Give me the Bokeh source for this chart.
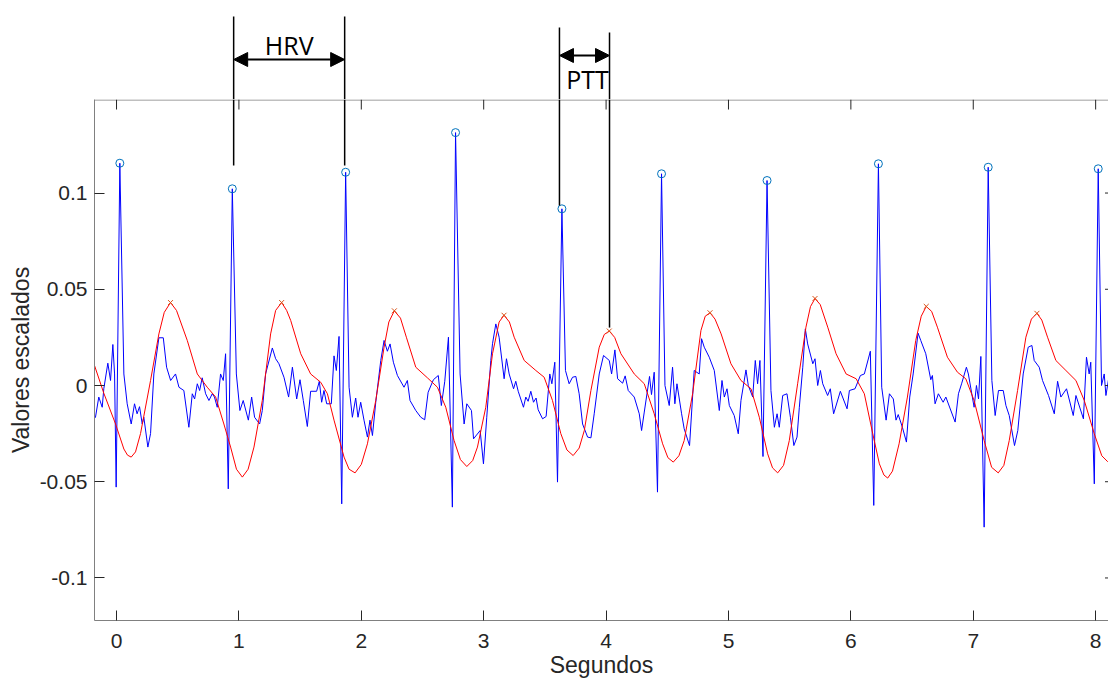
from bokeh.plotting import figure
from bokeh.models import FixedTicker, Label, Arrow, NormalHead, Range1d
from bokeh.layouts import column
from bokeh.embed import file_html
from bokeh.resources import INLINE

# ---------------- data ----------------
ecg_t = [-0.18, -0.172, -0.145, -0.117, -0.104, -0.071, -0.049, -0.030, -0.016, -0.003, 0.027, 0.06, 0.087, 0.12,
         0.147, 0.168, 0.188, 0.21, 0.223, 0.256, 0.278, 0.305, 0.346, 0.382, 0.409, 0.442, 0.482, 0.51, 0.55,
         0.591, 0.619, 0.638, 0.66, 0.679, 0.70, 0.728, 0.755, 0.782, 0.80, 0.823, 0.85, 0.872, 0.891, 0.913,
         0.946, 0.979, 1.008, 1.035, 1.077, 1.104, 1.128, 1.169, 1.191, 1.218, 1.273, 1.30, 1.327, 1.368, 1.406,
         1.437, 1.472, 1.499, 1.526, 1.559, 1.586, 1.635, 1.657, 1.676, 1.695, 1.717, 1.755, 1.777, 1.796, 1.818,
         1.840, 1.872, 1.90, 1.927, 1.954, 1.973, 1.995, 2.022, 2.05, 2.071, 2.091, 2.118, 2.159, 2.186, 2.213,
         2.235, 2.262, 2.295, 2.349, 2.376, 2.398, 2.445, 2.486, 2.518, 2.546, 2.589, 2.629, 2.654, 2.682, 2.712,
         2.744, 2.77, 2.807, 2.84, 2.862, 2.90, 2.917, 2.971, 2.998, 3.025, 3.058, 3.072, 3.099, 3.126, 3.167,
         3.186, 3.208, 3.244, 3.262, 3.282, 3.325, 3.344, 3.363, 3.385, 3.407, 3.428, 3.445, 3.481, 3.51, 3.54,
         3.557, 3.581, 3.603, 3.639, 3.668, 3.698, 3.726, 3.753, 3.78, 3.808, 3.849, 3.876, 3.903, 3.944, 3.979,
         4.026, 4.045, 4.072, 4.094, 4.135, 4.156, 4.181, 4.23, 4.271, 4.29, 4.312, 4.355, 4.371, 4.393, 4.42,
         4.453, 4.481, 4.516, 4.543, 4.562, 4.579, 4.617, 4.638, 4.682, 4.72, 4.761, 4.78, 4.802, 4.843, 4.884,
         4.925, 4.947, 4.966, 4.988, 5.007, 5.047, 5.08, 5.102, 5.143, 5.162, 5.198, 5.219, 5.238, 5.257, 5.282,
         5.315, 5.347, 5.375, 5.397, 5.415, 5.443, 5.478, 5.506, 5.534, 5.56, 5.579, 5.607, 5.628, 5.647, 5.689,
         5.707, 5.729, 5.751, 5.77, 5.81, 5.832, 5.859, 5.914, 5.969, 5.988, 6.034, 6.078, 6.11, 6.159, 6.187,
         6.225, 6.252, 6.288, 6.315, 6.347, 6.369, 6.387, 6.421, 6.454, 6.481, 6.509, 6.549, 6.571, 6.612, 6.653,
         6.666, 6.688, 6.715, 6.754, 6.776, 6.852, 6.879, 6.906, 6.944, 6.96, 7.007, 7.026, 7.043, 7.062, 7.089,
         7.122, 7.152, 7.179, 7.206, 7.245, 7.267, 7.294, 7.337, 7.364, 7.408, 7.449, 7.479, 7.498, 7.539, 7.566,
         7.615, 7.662, 7.689, 7.716, 7.762, 7.817, 7.839, 7.9, 7.925, 7.947, 7.96, 7.989, 8.021, 8.048, 8.07,
         8.084, 8.106, 8.12]
ecg_v = [-0.017, -0.0165, -0.006, -0.0113, -0.0017, 0.0116, 0.0026, 0.0213, 0.006, -0.0528, 0.1155, 0.006, -0.0095,
         -0.020, -0.0095, -0.0147, -0.011, -0.020, -0.0165, -0.032, -0.025, 0.006, 0.0248, 0.0248, 0.0095, 0.0026,
         0.006, -0.0009, -0.0026, -0.0217, -0.0043, -0.007, 0.0009, -0.0026, 0.004, -0.0043, -0.0078, -0.0043,
         -0.006, -0.0113, 0.006, 0.0026, 0.0165, -0.0537, 0.1022, 0.006, -0.013, -0.0078, -0.018, -0.006, -0.0165,
         -0.020, -0.013, 0.006, 0.0195, 0.0139, 0.0113, 0.0043, -0.006, 0.0095, -0.007, 0.003, -0.0078, -0.0213,
         -0.003, -0.003, 0.0022, -0.0087, -0.0026, -0.0095, -0.0095, 0.0154, 0.0078, 0.0255, -0.0615, 0.1108,
         -0.0009, -0.0165, -0.0065, -0.0165, -0.0087, -0.018, -0.0268, -0.018, -0.026, -0.0087, 0.013, 0.0234,
         0.0178, 0.0216, 0.0121, 0.0052, -0.0009, 0.0026, -0.0078, -0.013, -0.0165, -0.0178, -0.0035, 0.003,
         0.0052, -0.0104, 0.0022, 0.0251, -0.0632, 0.1314, 0.006, -0.020, -0.0095, -0.013, -0.0277, -0.0234,
         -0.0407, -0.0165, 0.013, 0.0217, 0.032, 0.0251, 0.0035, 0.0139, 0.006, -0.0017, 0.0022, -0.003, -0.0113,
         -0.006, -0.0082, -0.003, -0.0087, -0.0065, -0.0126, -0.0173, -0.0161, 0.006, 0.0009, 0.0121, -0.0502,
         0.0918, 0.0078, 0.0009, 0.0043, 0.0047, -0.0043, -0.020, -0.0268, -0.0272, -0.0147, 0.006, 0.0156, 0.013,
         0.006, 0.0185, 0.0035, 0.0012, 0.005, -0.0026, -0.006, -0.0147, -0.0234, -0.0138, 0.0047, -0.0047, 0.0069,
         -0.0554, 0.110, 0.0, -0.0104, 0.0095, -0.0095, 0.0009, -0.0147, -0.0225, -0.0312, 0.0078, 0.006, 0.0243,
         0.0199, 0.0147, 0.0078, -0.013, 0.0026, -0.006, -0.0017, -0.0104, -0.0156, -0.0251, -0.0078, 0.0081, 0.0,
         -0.006, 0.013, 0.0009, 0.013, -0.0369, 0.1065, -0.0026, -0.0217, -0.0147, -0.0217, -0.0052, -0.0043,
         -0.0165, -0.0312, -0.0268, -0.0113, 0.0095, 0.0294, 0.0216, 0.0113, 0.0139, 0.0, 0.0078, 0.0009, -0.0052,
         -0.0017, -0.0147, -0.003, -0.0121, -0.0026, -0.0017, 0.0052, 0.006, 0.0178, -0.0623, 0.1152, -0.0009,
         -0.018, -0.0043, -0.007, -0.018, -0.0151, -0.0217, -0.0294, -0.006, 0.006, 0.0272, 0.0234, 0.0165, 0.003,
         0.0052, -0.0095, -0.0043, -0.0087, -0.006, -0.019, -0.0043, 0.0012, 0.0095, 0.006, -0.0113, 0.0, -0.007,
         0.0151, -0.0736, 0.1134, 0.0026, -0.0156, -0.0026, -0.0026, -0.0104, -0.0156, -0.0312, -0.0234, 0.006,
         0.0199, 0.0208, 0.013, 0.0095, 0.0026, -0.0052, -0.0147, 0.0022, -0.006, -0.0017, -0.0156, -0.0052,
         -0.0173, 0.0147, 0.006, 0.0121, -0.0511, 0.1126, 0.0, 0.006, -0.0052, 0.0035, 0.002]

ppg_t = [-0.18, -0.104, -0.008, 0.06, 0.09, 0.12, 0.155, 0.196, 0.278, 0.346, 0.39, 0.441, 0.49, 0.578, 0.66,
         0.741, 0.81, 0.877, 0.932, 0.98, 1.028, 1.075, 1.123, 1.191, 1.259, 1.30, 1.349, 1.39, 1.423, 1.505,
         1.586, 1.668, 1.723, 1.777, 1.859, 1.90, 1.949, 2.0, 2.05, 2.118, 2.186, 2.225, 2.27, 2.32, 2.368, 2.445,
         2.54, 2.622, 2.69, 2.758, 2.81, 2.862, 2.91, 2.949, 3.017, 3.072, 3.126, 3.166, 3.21, 3.249, 3.331,
         3.426, 3.494, 3.562, 3.63, 3.68, 3.731, 3.78, 3.822, 3.876, 3.944, 3.985, 4.026, 4.07, 4.121, 4.23,
         4.312, 4.393, 4.462, 4.505, 4.549, 4.595, 4.638, 4.707, 4.775, 4.81, 4.849, 4.89, 4.94, 5.02, 5.102,
         5.184, 5.252, 5.32, 5.36, 5.402, 5.45, 5.497, 5.565, 5.633, 5.67, 5.707, 5.75, 5.811, 5.879, 5.961,
         6.043, 6.11, 6.179, 6.233, 6.27, 6.301, 6.34, 6.394, 6.462, 6.53, 6.575, 6.616, 6.66, 6.707, 6.789,
         6.871, 6.939, 7.007, 7.089, 7.15, 7.204, 7.25, 7.294, 7.362, 7.43, 7.475, 7.52, 7.56, 7.607, 7.675,
         7.757, 7.839, 7.907, 7.989, 8.05, 8.097, 8.12]
ppg_v = [0.0104, -0.004, -0.020, -0.033, -0.0362, -0.0372, -0.0345, -0.025, 0.0026, 0.0268, 0.038, 0.0431, 0.039,
         0.0234, 0.006, -0.0009, -0.006, -0.020, -0.032, -0.0435, -0.0476, -0.0435, -0.032, -0.0078, 0.0268,
         0.039, 0.0431, 0.039, 0.0338, 0.0165, 0.006, 0.0017, -0.0043, -0.018, -0.0372, -0.0435, -0.0454, -0.041,
         -0.0303, -0.0078, 0.0199, 0.033, 0.0388, 0.035, 0.0251, 0.0095, 0.004, -0.0009, -0.0113, -0.0286,
         -0.0385, -0.0421, -0.039, -0.032, -0.0113, 0.0165, 0.033, 0.0365, 0.033, 0.0251, 0.013, 0.0078, 0.0043,
         -0.0078, -0.025, -0.0335, -0.0364, -0.0325, -0.0234, -0.0026, 0.0199, 0.0265, 0.0283, 0.025, 0.0165,
         0.006, 0.0009, -0.0147, -0.0303, -0.0375, -0.0398, -0.0365, -0.0286, -0.0043, 0.0286, 0.036, 0.0378,
         0.0345, 0.0268, 0.0113, 0.0026, -0.0017, -0.0165, -0.0355, -0.0428, -0.0454, -0.0415, -0.0286, 0.0009,
         0.0303, 0.041, 0.0452, 0.042, 0.0303, 0.0165, 0.006, 0.0035, -0.0043, -0.0251, -0.0407, -0.0465,
         -0.0481, -0.0445, -0.0303, -0.006, 0.0234, 0.036, 0.0411, 0.0385, 0.0303, 0.0147, 0.0069, 0.0035,
         -0.0078, -0.0286, -0.0425, -0.0454, -0.0415, -0.0286, -0.0026, 0.0251, 0.0345, 0.0375, 0.034, 0.0251,
         0.013, 0.0078, 0.0026, -0.0078, -0.0251, -0.0365, -0.0395, -0.038]

rpeak_t = [0.027, 0.946, 1.872, 2.77, 3.639, 4.453, 5.315, 6.225, 7.122, 8.021]
rpeak_v = [0.1155, 0.1022, 0.1108, 0.1314, 0.0918, 0.110, 0.1065, 0.1152, 0.1134, 0.1126]

ppg_peak_t = [0.441, 1.349, 2.27, 3.166, 4.026, 4.849, 5.707, 6.616, 7.52]
ppg_peak_v = [0.0431, 0.0431, 0.0388, 0.0365, 0.0283, 0.0378, 0.0452, 0.0411, 0.0375]

x_ticks = [0, 1, 2, 3, 4, 5, 6, 7, 8]
y_ticks = [-0.1, -0.05, 0, 0.05, 0.1]
y_tick_labels = ["-0.1", "-0.05", "0", "0.05", "0.1"]

x_label = "Segundos"
y_label = "Valores escalados"

# ---------------- geometry / style ----------------
AX = "#262626"
BOX = "#808080"
FONT = "Liberation Sans"
X0, X1 = -0.18, 8.105
Y0, Y1 = -0.1221, 0.1486
PX_X = (X1 - X0) / 1014.0      # data units per pixel (x)
PX_Y = (Y1 - Y0) / 521.0       # data units per pixel (y)
TOP_H = 99                      # annotation strip above the axes
MAIN_H = 681 - TOP_H


def clean(fig):
    fig.xgrid.visible = False
    fig.ygrid.visible = False
    fig.outline_line_color = None
    fig.background_fill_color = "white"
    fig.border_fill_color = "white"


# ---------------- main axes ----------------
p = figure(width=1108, height=MAIN_H, x_range=Range1d(X0, X1), y_range=Range1d(Y0, Y1),
           title=None, output_backend="svg", toolbar_location=None,
           min_border_left=94, min_border_right=0, min_border_top=0, min_border_bottom=MAIN_H - 521)
clean(p)

p.line(ecg_t, ecg_v, line_color="#0000FF", line_width=1)
p.line(ppg_t, ppg_v, line_color="#FF0000", line_width=1)
p.scatter(rpeak_t, rpeak_v, marker="circle", size=8, fill_color=None, line_color="#0072BD", line_width=1)
p.scatter(ppg_peak_t, ppg_peak_v, marker="x", size=7, line_color="#D95319", line_width=1)

for ax in (p.xaxis[0], p.yaxis[0]):
    ax.axis_line_color = BOX
    ax.major_tick_line_color = AX
    ax.major_tick_in = 10
    ax.major_tick_out = 0
    ax.minor_tick_line_color = None
    ax.major_label_text_font = FONT
    ax.major_label_text_font_size = "21px"
    ax.major_label_text_color = AX
    ax.axis_label_text_font = FONT
    ax.axis_label_text_font_size = "23px"
    ax.axis_label_text_font_style = "normal"
    ax.axis_label_text_color = AX

xb = p.xaxis[0]
xb.ticker = FixedTicker(ticks=x_ticks)
xb.major_label_standoff = 13
xb.axis_label = x_label
xb.axis_label_standoff = 1

yl = p.yaxis[0]
yl.ticker = FixedTicker(ticks=y_ticks)
yl.major_label_overrides = {t: s for t, s in zip(y_ticks, y_tick_labels)}
yl.major_label_standoff = 7
yl.axis_label = y_label
yl.axis_label_standoff = 3

# box: top edge line, mirrored ticks on top and (cut-off) right side
p.segment(x0=[X0], y0=[Y1 - 0.5 * PX_Y], x1=[X1], y1=[Y1 - 0.5 * PX_Y], line_color=BOX, line_width=1)
p.segment(x0=x_ticks, y0=[Y1] * len(x_ticks), x1=x_ticks, y1=[Y1 - 10 * PX_Y] * len(x_ticks),
          line_color=AX, line_width=1)
p.segment(x0=[X1] * len(y_ticks), y0=y_ticks, x1=[X1 - 3.5 * PX_X] * len(y_ticks), y1=y_ticks,
          line_color=AX, line_width=1)

# ---------------- HRV / PTT annotations (strip above the axes) ----------------
hrv_x0, hrv_x1 = 0.957, 1.864
ptt_x0, ptt_x1 = 3.619, 4.028
TOP_Y1 = Y1 + TOP_H * PX_Y


def top_y(py):
    return TOP_Y1 - py * PX_Y


top = figure(width=1108, height=TOP_H, x_range=p.x_range, y_range=Range1d(Y1, TOP_Y1),
             title=None, output_backend="svg", toolbar_location=None,
             x_axis_location=None, y_axis_location=None,
             min_border_left=94, min_border_right=0, min_border_top=0, min_border_bottom=0)
clean(top)

vx = [hrv_x0, hrv_x1, ptt_x0, ptt_x1]
v_top = [top_y(16), top_y(16), top_y(27), top_y(32)]
v_bot = [0.1143, 0.1143, 0.0935, 0.0301]
top.segment(x0=vx, y0=v_top, x1=vx, y1=[Y1] * 4, line_color="black", line_width=1.5)
p.segment(x0=vx, y0=[Y1] * 4, x1=vx, y1=v_bot, line_color="black", line_width=1.5)


def harrow(x0, x1, y):
    top.add_layout(Arrow(x_start=x0, y_start=y, x_end=x1, y_end=y,
                         start=NormalHead(size=14, fill_color="black", line_color="black", line_width=1),
                         end=NormalHead(size=14, fill_color="black", line_color="black", line_width=1),
                         line_color="black", line_width=2))


harrow(hrv_x0, hrv_x1, top_y(59))
harrow(ptt_x0, ptt_x1, top_y(55))

top.add_layout(Label(x=(hrv_x0 + hrv_x1) / 2, y=top_y(44), text="HRV", text_align="center",
                     text_baseline="middle", text_font="Open Sans", text_font_size="25px",
                     text_color="black"))
top.add_layout(Label(x=(ptt_x0 + ptt_x1) / 2, y=top_y(78), x_offset=3, text="PTT", text_align="center",
                     text_baseline="middle", text_font="Open Sans", text_font_size="25px",
                     text_color="black"))

layout = column(top, p, spacing=0)
open("out.html", "w").write(file_html(layout, INLINE))
